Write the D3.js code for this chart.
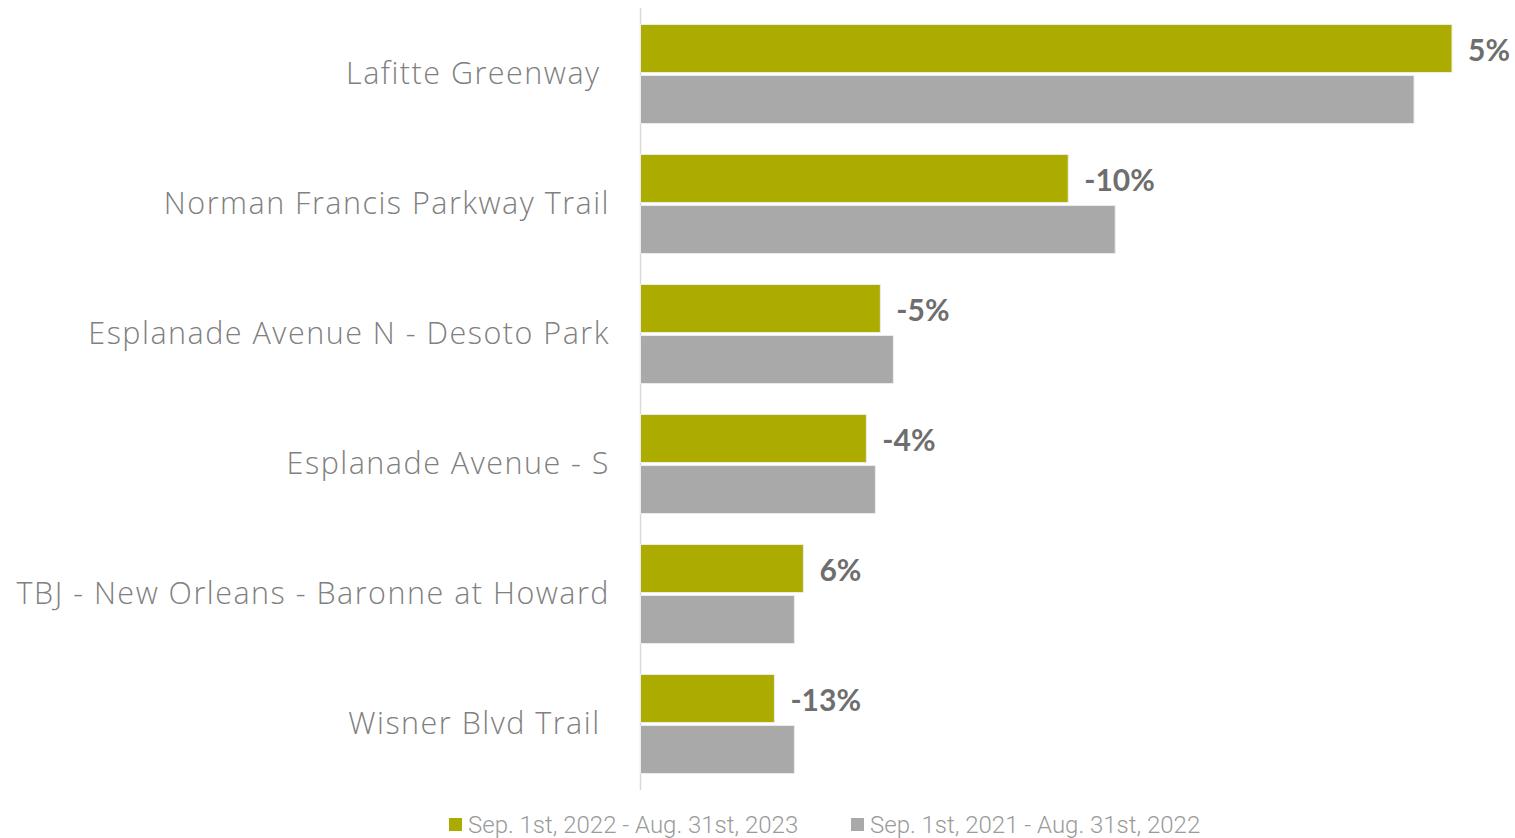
<!DOCTYPE html>
<html>
<head>
<meta charset="utf-8">
<script src="https://cdn.jsdelivr.net/npm/d3@7"></script>
<style>
  html, body { margin: 0; padding: 0; background: #fff; }
  svg { display: block; }
</style>
</head>
<body>
<svg id="chart" width="1515" height="838"></svg>
<script>
// Trail counter totals, one entry per location (top to bottom)
const categories = [
  "Lafitte Greenway ",
  "Norman Francis Parkway Trail",
  "Esplanade Avenue N - Desoto Park",
  "Esplanade Avenue - S",
  "TBJ - New Orleans - Baronne at Howard",
  "Wisner Blvd Trail "
];
const seriesNames = ["Sep. 1st, 2022 - Aug. 31st, 2023", "Sep. 1st, 2021 - Aug. 31st, 2022"];
const current  = [812, 428, 240, 226, 163, 134];
const previous = [774, 475, 253, 235, 154, 154];
// Year-over-year change printed beside each current bar
const changeLabels = ["5%", "-10%", "-5%", "-4%", "6%", "-13%"];

const colors = ["#abab00", "#a9a9a9"];

const svg = d3.select("#chart");
const axisX = 640.5;

const y = d3.scaleBand()
  .domain(categories)
  .range([9, 789])
  .paddingInner(0.238)
  .paddingOuter(0.119);

const ySub = d3.scaleBand()
  .domain([0, 1])
  .range([0, y.bandwidth()])
  .paddingInner(0.06);

const x = d3.scaleLinear()
  .domain([0, d3.max(current)])
  .range([axisX, 1452]);

const rows = categories.map((c, i) => ({ c, vals: [current[i], previous[i]], label: changeLabels[i] }));

// vertical baseline
svg.append("line")
  .attr("x1", axisX).attr("x2", axisX)
  .attr("y1", 8).attr("y2", 790)
  .attr("stroke", "#d9d9d9").attr("stroke-width", 1.5);

const g = svg.selectAll("g.row").data(rows).join("g")
  .attr("class", "row")
  .attr("transform", d => `translate(0,${y(d.c)})`);

g.selectAll("rect").data(d => d.vals.map((v, k) => ({ v, k }))).join("rect")
  .attr("x", axisX)
  .attr("y", d => ySub(d.k))
  .attr("width", d => x(d.v) - axisX)
  .attr("height", ySub.bandwidth())
  .attr("fill", d => colors[d.k])
  .attr("stroke", "#ececec")
  .attr("stroke-width", 1);

// category labels
g.append("text")
  .attr("x", 610)
  .attr("y", y.bandwidth() / 2 - 1)
  .attr("dy", "0.35em")
  .attr("text-anchor", "end")
  .attr("font-family", "'Open Sans', Lato, sans-serif")
  .attr("font-weight", 300)
  .attr("font-size", 30.5)
  .attr("letter-spacing", 1.5)
  .attr("fill", "#808080")
  .style("white-space", "pre")
  .text(d => d.c);

// change labels
g.append("text")
  .attr("x", d => x(d.vals[0]) + 16)
  .attr("y", ySub(0) + ySub.bandwidth() / 2 + 2)
  .attr("dy", "0.35em")
  .attr("font-family", "Lato, 'Open Sans', sans-serif")
  .attr("font-weight", 700)
  .attr("font-size", 30)
  .attr("fill", "#6e6e6e")
  .text(d => d.label);

// legend
const legendX = [449, 851];
const leg = svg.selectAll("g.legend").data(seriesNames).join("g")
  .attr("class", "legend")
  .attr("transform", (d, i) => `translate(${legendX[i]},0)`);
leg.append("rect")
  .attr("x", 0).attr("y", 818)
  .attr("width", 13).attr("height", 13)
  .attr("fill", (d, i) => colors[i]);
leg.append("text")
  .attr("x", 19).attr("y", 833)
  .attr("font-family", "Roboto, sans-serif")
  .attr("font-weight", 300)
  .attr("font-size", 24)
  .attr("fill", "#9a9a9a")
  .text(d => d);
</script>
</body>
</html>
